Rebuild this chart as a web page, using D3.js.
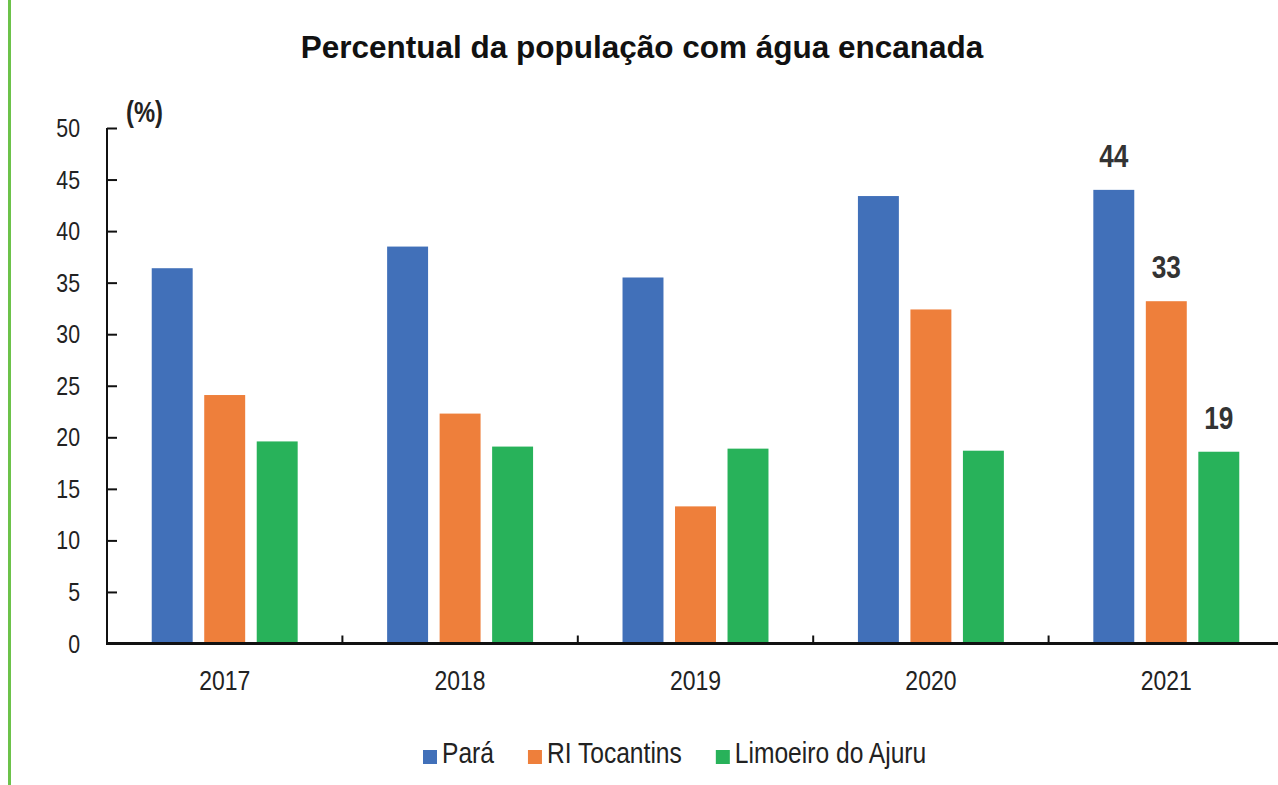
<!DOCTYPE html>
<html>
<head>
<meta charset="utf-8">
<script src="https://cdn.jsdelivr.net/npm/d3@7"></script>
<style>
  html, body { margin: 0; padding: 0; background: #fff; }
  svg { display: block; }
</style>
</head>
<body>
<div id="chart"></div>
<script>
// Chart data
const years = ['2017', '2018', '2019', '2020', '2021'];
const seriesNames = ['Pará', 'RI Tocantins', 'Limoeiro do Ajuru'];
const para = [36.4, 38.5, 35.5, 43.4, 44.0];
const tocantins = [24.1, 22.3, 13.3, 32.4, 33.2];
const limoeiro = [19.6, 19.1, 18.9, 18.7, 18.6];
const yTicks = [0, 5, 10, 15, 20, 25, 30, 35, 40, 45, 50];
// labels shown above the 2021 bars
const labels2021 = ['44', '33', '19'];

const COLORS = ['#4170b9', '#ee7f3b', '#28b25a'];
const FONT = "'Liberation Sans', Arial, sans-serif";
const SQUEEZE = 0.82; // the source text is condensed (Arial Narrow look)

(function () {
  const width = 1278, height = 785;
  const values = [para, tocantins, limoeiro];

  const svg = d3.select('#chart')
    .append('svg')
    .attr('width', width)
    .attr('height', height)
    .style('background', '#fff');

  // place a text node at (x, y), squeezed horizontally
  function narrow(sel, fx, fy) {
    return sel
      .attr('font-family', FONT)
      .attr('transform', (d, i) => `translate(${fx(d, i)},${fy(d, i)}) scale(${SQUEEZE},1)`);
  }

  // green rule at the left edge
  svg.append('rect')
    .attr('x', 8).attr('y', 0)
    .attr('width', 3).attr('height', height)
    .attr('fill', '#6cc24a');

  const x0 = d3.scaleBand().domain(years).range([107, 1284]).padding(0);
  const x1 = d3.scaleBand().domain(seriesNames)
    .range([-78.75, 78.75]).paddingInner(0.22).paddingOuter(0.11);
  const y = d3.scaleLinear().domain([0, 50]).range([643.5, 128]);

  // title
  svg.append('text')
    .attr('x', 642).attr('y', 58)
    .attr('text-anchor', 'middle')
    .attr('font-family', FONT)
    .attr('font-weight', 'bold')
    .attr('font-size', 31.5)
    .attr('fill', '#111')
    .text('Percentual da população com água encanada');

  // unit label
  svg.append('text')
    .call(narrow, () => 126, () => 122)
    .attr('font-weight', 'bold')
    .attr('font-size', 29)
    .attr('fill', '#222')
    .text('(%)');

  // bars
  const groups = svg.append('g').selectAll('g')
    .data(years)
    .join('g')
    .attr('transform', d => `translate(${x0(d) + x0.bandwidth() / 2},0)`);

  groups.selectAll('rect')
    .data((d, i) => seriesNames.map((s, k) => ({ s, k, v: values[k][i] })))
    .join('rect')
    .attr('x', d => x1(d.s))
    .attr('width', x1.bandwidth())
    .attr('y', d => y(d.v))
    .attr('height', d => y(0) - y(d.v))
    .attr('fill', d => COLORS[d.k]);

  // data labels on the last year
  const last = years.length - 1;
  svg.append('g').selectAll('text')
    .data(seriesNames)
    .join('text')
    .call(narrow,
      s => x0(years[last]) + x0.bandwidth() / 2 + x1(s) + x1.bandwidth() / 2,
      (s, k) => y(values[k][last]) - 23)
    .attr('text-anchor', 'middle')
    .attr('font-weight', 'bold')
    .attr('font-size', 32)
    .attr('fill', '#333')
    .text((s, k) => labels2021[k]);

  // y axis
  const yAxis = d3.axisRight(y).tickValues(yTicks).tickSize(10).tickFormat('');
  const yG = svg.append('g')
    .attr('transform', 'translate(107,0)')
    .call(yAxis);
  yG.select('.domain').attr('stroke', '#111').attr('stroke-width', 2).attr('d', `M0,${y(50)}V${y(0)}`);
  yG.selectAll('.tick line').attr('stroke', '#111').attr('stroke-width', 2);

  svg.append('g').selectAll('text')
    .data(yTicks)
    .join('text')
    .call(narrow, () => 80, d => y(d) + 9)
    .attr('text-anchor', 'end')
    .attr('font-size', 26)
    .attr('fill', '#222')
    .text(d => d);

  // x axis: boundary ticks pointing up
  const xG = svg.append('g');
  xG.append('line')
    .attr('x1', 106).attr('x2', 1278)
    .attr('y1', y(0)).attr('y2', y(0))
    .attr('stroke', '#111').attr('stroke-width', 3);
  xG.selectAll('line.tick')
    .data(years.slice(1))
    .join('line')
    .attr('class', 'tick')
    .attr('x1', d => x0(d)).attr('x2', d => x0(d))
    .attr('y1', y(0)).attr('y2', y(0) - 8)
    .attr('stroke', '#111').attr('stroke-width', 2);
  xG.selectAll('text')
    .data(years)
    .join('text')
    .call(narrow, d => x0(d) + x0.bandwidth() / 2, () => 690)
    .attr('text-anchor', 'middle')
    .attr('font-size', 28)
    .attr('fill', '#222')
    .text(d => d);

  // legend
  const legend = svg.append('g');
  let lx = 423;
  seriesNames.forEach((s, k) => {
    legend.append('rect')
      .attr('x', lx).attr('y', 750)
      .attr('width', 14).attr('height', 14)
      .attr('fill', COLORS[k]);
    const t = legend.append('text')
      .call(narrow, () => lx + 19, () => 763)
      .attr('font-size', 30)
      .attr('fill', '#222')
      .text(s);
    lx += 19 + t.node().getComputedTextLength() * SQUEEZE + 34;
  });
})();
</script>
</body>
</html>
